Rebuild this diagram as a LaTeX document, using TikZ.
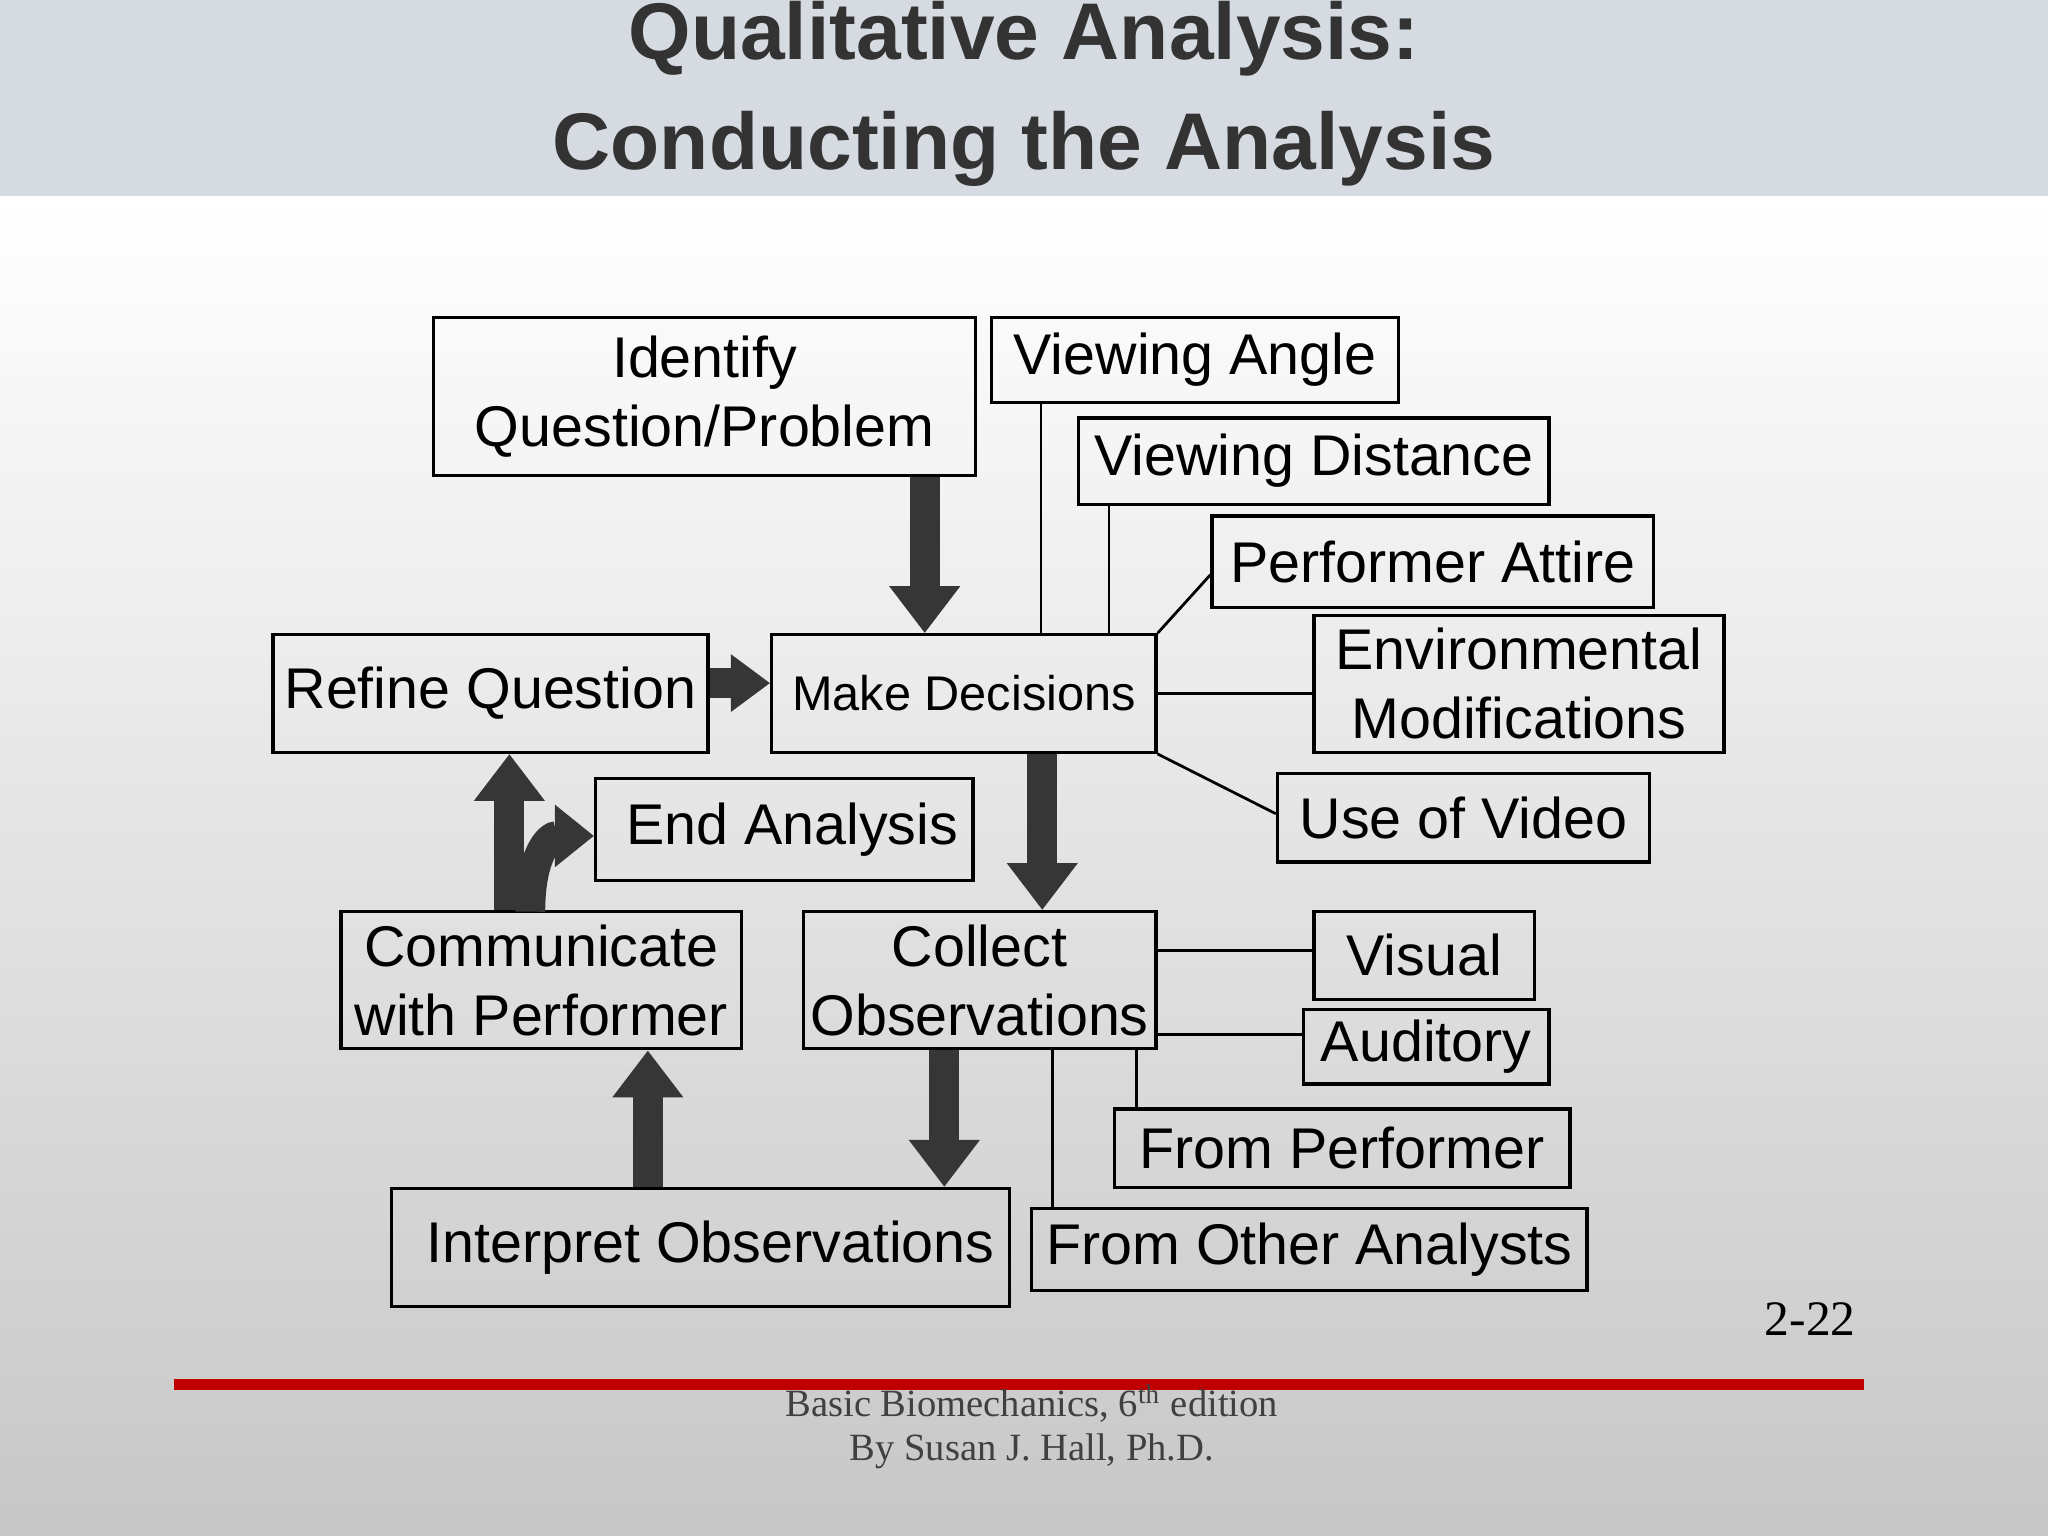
\documentclass[tikz,border=0pt]{standalone}
\usepackage{fontspec}
\setmainfont{Liberation Sans}
\newfontfamily\serifft{Liberation Serif}
\usetikzlibrary{arrows.meta}
\definecolor{band}{HTML}{D5DBE1}
\definecolor{ttl}{HTML}{333333}
\definecolor{fat}{HTML}{363636}
\definecolor{redl}{HTML}{C00000}
\begin{document}
\begin{tikzpicture}[x=0.01cm,y=-0.01cm,
  box/.style={draw=black,line width=0.7pt,fill=none,align=center,inner sep=0pt,font=\fontsize{12.5}{15}\selectfont},
  thin/.style={draw=black,line width=0.6pt},
  fatarr/.style={draw=fat,line width=6.5pt,-{Triangle[length=0.36cm,width=0.52cm]}}]
\useasboundingbox (0,0) rectangle (1568,1176);
\shade[top color=white,bottom color=black!22] (0,150) rectangle (1568,1176);
\fill[band] (0,0) rectangle (1568,150);
\node[font=\fontsize{17.5}{21}\bfseries\selectfont,text=ttl] (t1) at (784,30) {Qualitative Analysis:};
\node[font=\fontsize{17.5}{21}\bfseries\selectfont,text=ttl] (t2) at (784,114) {Conducting the Analysis};
\newcommand{\bx}[6]{\node[box,minimum width=#4*0.01cm-#2*0.01cm,minimum height=#5*0.01cm-#3*0.01cm] (#1) at ({(#2+#4)/2},{(#3+#5)/2}) {#6};}
\bx{iq}{332}{243}{747}{364}{Identify\\Question/Problem}
\bx{va}{759}{243}{1071}{308}{Viewing Angle}
\bx{vd}{826}{320}{1186}{386}{Viewing Distance}
\bx{pa}{928}{395}{1266}{465}{Performer Attire}
\bx{em}{1006}{471}{1320}{576}{Environmental\\Modifications}
\bx{uv}{978}{592}{1263}{660}{Use of Video}
\node[box,font=\fontsize{10.6}{12}\selectfont,minimum width=2.94cm,minimum height=0.9cm] (md) at (738,531) {Make Decisions};
\bx{rq}{209}{486}{542}{576}{Refine Question}
\bx{ea}{456}{596}{745}{674}{\hspace*{0.12cm}End Analysis}
\bx{cp}{261}{698}{568}{803}{Communicate\\with Performer}
\bx{co}{615}{698}{885}{803}{Collect\\Observations}
\bx{vi}{1006}{698}{1175}{765}{Visual}
\bx{au}{998}{773}{1186}{830}{Auditory}
\bx{fp}{853}{849}{1202}{909}{From Performer}
\bx{fo}{790}{925}{1215}{988}{From Other Analysts}
\bx{io}{300}{910}{773}{1000}{\hspace*{0.15cm}Interpret Observations}
\draw[thin] (md.north -| 797,0) -- (797,0 |- va.south);
\draw[thin] (md.north -| 849,0) -- (849,0 |- vd.south);
\draw[thin] (md.north east) -- (pa.west |- 0,440);
\draw[thin] (md.east) -- (em.west |- md.east);
\draw[thin] (md.south east) -- (uv.west |- 0,623);
\draw[thin] (co.east |- 0,728) -- (vi.west |- 0,728);
\draw[thin] (co.east |- 0,792) -- (au.west |- 0,792);
\draw[thin] (co.south -| 870,0) -- (870,0 |- fp.north);
\draw[thin] (co.south -| 806,0) -- (806,0 |- fo.north);
\draw[fatarr] (iq.south -| 708,0) -- (708,0 |- md.north);
\draw[fatarr,-{Triangle[length=0.3cm,width=0.42cm]}] (rq.east |- 0,523) -- (md.west |- 0,523);
\draw[fatarr] (md.south -| 798,0) -- (798,0 |- co.north);
\draw[fatarr] (co.south -| 723,0) -- (723,0 |- io.north);
\draw[fatarr] (io.north -| 496,0) -- (496,0 |- cp.south);
\draw[fatarr] (cp.north -| 390,0) -- (390,0 |- rq.south);
\draw[fatarr,-{Triangle[length=0.3cm,width=0.46cm]}] (406,698) .. controls (406,655) and (420,640) .. (ea.west |- 0,640);
\node[font=\serifft\fontsize{10.8}{13}\selectfont] (pg) at (1386,1010) {2-22};
\draw[redl,line width=2.2pt] (133,1060) coordinate (r1) -- (1427,1060) coordinate (r2);
\node[font=\serifft\fontsize{8.4}{10}\selectfont,text=black!75] (f1) at (790,1075) {Basic Biomechanics, 6\textsuperscript{th} edition};
\node[font=\serifft\fontsize{8.4}{10}\selectfont,text=black!75] (f2) at (790,1111) {By Susan J. Hall, Ph.D.};
\end{tikzpicture}
\end{document}
